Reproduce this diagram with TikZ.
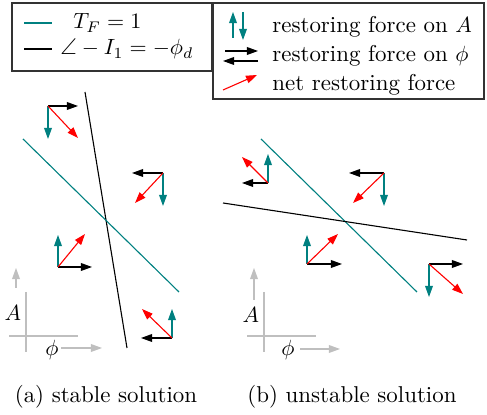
\documentclass[tikz,border=0pt]{standalone}
\usepackage{amsmath}
\usepackage{amssymb}
\usepackage{fontspec}
\usetikzlibrary{positioning, arrows.meta}
\usepackage{xcolor}

\tikzset{
  ampl/.style={draw=teal, line width=0.5pt, -{Triangle[length=5pt,width=3.5pt]}, teal},
  phase/.style={draw=black, line width=0.5pt, -{Triangle[length=5pt,width=3.5pt]}},
  net/.style={draw=red, line width=0.5pt, -{Triangle[length=5pt,width=3.5pt]}, red},
  axis/.style={draw=black!25, line width=0.5pt},
  axisarrow/.style={draw=black!25, line width=0.5pt, -{Triangle[length=5pt,width=3.5pt]}, black!25},
  legtext/.style={anchor=west, inner sep=0pt}
}

\begin{document}
\begin{tikzpicture}[x=0.454pt, y=-0.454pt, every node/.append style={font=\fontsize{10.4}{12.5}\selectfont}]
\useasboundingbox (0,0) rectangle (487,415);

% legends
\draw[line width=0.7pt, black!80] (12,3) rectangle (212,71);
\draw[teal, line width=0.5pt] (24,23) -- (52,23);
\node[legtext] (tf) at (73,23) {$T_F = 1$};
\draw[line width=0.5pt] (24,49) -- (52,49);
\node[legtext] (angle) at (60,49) {$\angle - I_1 = -\phi_d$};

\draw[line width=0.7pt, black!80] (213,3) rectangle (484,99);
\coordinate (lu) at (233,38);
\coordinate (ld) at (243,12);
\draw[ampl] (lu) -- ++(0,-26);
\draw[ampl] (ld) -- ++(0,28);
\node[legtext] (tA) at (272,27) {restoring force on $A$};
\coordinate (lr) at (225,51);
\coordinate (ll) at (258,61);
\draw[phase] (lr) -- ++(33,0);
\draw[phase] (ll) -- ++(-35,0);
\node[legtext] (tphi) at (272,56) {restoring force on $\phi$};
\coordinate (ln) at (223,90);
\draw[net] (ln) -- ++(34,-15);
\node[legtext] (tnet) at (272,85) {net restoring force};

% (a) stable
\draw[line width=0.5pt] (85,92) -- (127,348);
\draw[teal, line width=0.5pt] (23,139) -- (179,292);

\coordinate (a1) at (48,106);
\draw[phase] (a1) -- ++(30,0);
\draw[ampl] (a1) -- ++(0,33);
\draw[net] (a1) -- ++(30,32);

\coordinate (a2) at (163,173);
\draw[phase] (a2) -- ++(-31,0);
\draw[ampl] (a2) -- ++(0,33);
\draw[net] (a2) -- ++(-28,30);

\coordinate (a3) at (58,267);
\draw[phase] (a3) -- ++(34,0);
\draw[ampl] (a3) -- ++(0,-32);
\draw[net] (a3) -- ++(27,-33);

\coordinate (a4) at (172,338);
\draw[phase] (a4) -- ++(-31,0);
\draw[ampl] (a4) -- ++(0,-29);
\draw[net] (a4) -- ++(-30,-29);

\draw[axis] (26,292) -- (26,352);
\draw[axis] (9,336) -- (78,336);
\draw[axisarrow] (16,288) -- (16,268);
\draw[axisarrow] (61,348) -- (102,348);
\node (aA) at (13,313) {$A$};
\node (aphi) at (52,350) {$\phi$};

\node (capa) at (106,397) {(a) stable solution};

% (b) unstable
\draw[teal, line width=0.5pt] (261,139) -- (417,292);
\draw[line width=0.5pt] (223,203) -- (467,240);

\coordinate (b1) at (268,183);
\draw[phase] (b1) -- ++(-26,0);
\draw[ampl] (b1) -- ++(0,-29);
\draw[net] (b1) -- ++(-26,-26);

\coordinate (b2) at (384,173);
\draw[phase] (b2) -- ++(-35,0);
\draw[ampl] (b2) -- ++(0,33);
\draw[net] (b2) -- ++(-31,30);

\coordinate (b3) at (307,264);
\draw[phase] (b3) -- ++(35,0);
\draw[ampl] (b3) -- ++(0,-29);
\draw[net] (b3) -- ++(31,-30);

\coordinate (b4) at (429,264);
\draw[phase] (b4) -- ++(34,0);
\draw[ampl] (b4) -- ++(0,33);
\draw[net] (b4) -- ++(34,30);

\draw[axis] (264,292) -- (264,352);
\draw[axis] (247,336) -- (316,336);
\draw[axisarrow] (254,300) -- (254,268);
\draw[axisarrow] (300,349) -- (340,349);
\node (bA) at (251,315) {$A$};
\node (bphi) at (288,350) {$\phi$};

\node (capb) at (352,397) {(b) unstable solution};
\end{tikzpicture}
\end{document}
